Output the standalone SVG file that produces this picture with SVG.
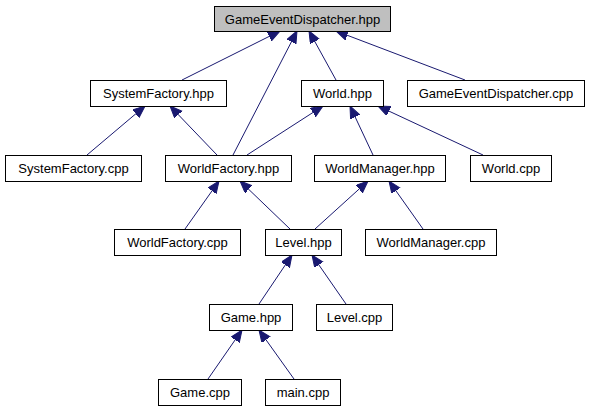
<svg xmlns="http://www.w3.org/2000/svg" width="589" height="411" viewBox="0 0 589 411">
<defs>
<style>
.n rect{fill:#fff;stroke:#000;stroke-width:1}
.n text{font-family:"Liberation Sans",Arial,sans-serif;font-size:13px;fill:#000;text-anchor:middle}
.e line{stroke:#191970;stroke-width:1;marker-end:url(#ah)}
</style>
<marker id="ah" markerUnits="userSpaceOnUse" markerWidth="14" markerHeight="12" refX="12" refY="5" orient="auto">
<path d="M0,0 L12,5 L0,10 z" fill="#191970" stroke="#191970" stroke-width="1"/>
</marker>
</defs>
<rect width="589" height="411" fill="#fff"/>
<g id="connectors" class="e">
<line x1="182" y1="80" x2="280" y2="31"/>
<line x1="233" y1="155" x2="297" y2="31"/>
<line x1="336" y1="80" x2="309" y2="31"/>
<line x1="465" y1="80" x2="336" y2="31"/>
<line x1="87" y1="155" x2="145" y2="106"/>
<line x1="217" y1="155" x2="170" y2="106"/>
<line x1="247" y1="155" x2="323" y2="106"/>
<line x1="373" y1="155" x2="350" y2="106"/>
<line x1="483" y1="155" x2="378" y2="106"/>
<line x1="185" y1="229" x2="219" y2="181"/>
<line x1="290" y1="229" x2="240" y2="181"/>
<line x1="315" y1="229" x2="368" y2="181"/>
<line x1="423" y1="229" x2="389" y2="181"/>
<line x1="259" y1="304" x2="292" y2="255"/>
<line x1="346" y1="304" x2="312" y2="255"/>
<line x1="208" y1="379" x2="242" y2="330"/>
<line x1="294" y1="379" x2="259" y2="330"/>
</g>
<g id="n_ged_hpp" class="n"><rect x="214.5" y="6.5" width="176" height="25" style="fill:#bfbfbf"/><text x="302.5" y="23.5">GameEventDispatcher.hpp</text></g>
<g id="n_sysfac_hpp" class="n"><rect x="90.5" y="80.5" width="136" height="26"/><text x="158.5" y="98">SystemFactory.hpp</text></g>
<g id="n_world_hpp" class="n"><rect x="301.5" y="80.5" width="82" height="26"/><text x="342.5" y="98">World.hpp</text></g>
<g id="n_ged_cpp" class="n"><rect x="407.5" y="80.5" width="177" height="26"/><text x="496" y="98">GameEventDispatcher.cpp</text></g>
<g id="n_sysfac_cpp" class="n"><rect x="5.5" y="155.5" width="136" height="26"/><text x="73.5" y="173">SystemFactory.cpp</text></g>
<g id="n_wfac_hpp" class="n"><rect x="165.5" y="155.5" width="126" height="26"/><text x="228.5" y="173">WorldFactory.hpp</text></g>
<g id="n_wman_hpp" class="n"><rect x="314.5" y="155.5" width="131" height="26"/><text x="380" y="173">WorldManager.hpp</text></g>
<g id="n_world_cpp" class="n"><rect x="470.5" y="155.5" width="81" height="26"/><text x="511" y="173">World.cpp</text></g>
<g id="n_wfac_cpp" class="n"><rect x="114.5" y="229.5" width="126" height="26"/><text x="177.5" y="247">WorldFactory.cpp</text></g>
<g id="n_level_hpp" class="n"><rect x="265.5" y="229.5" width="76" height="26"/><text x="303.5" y="247">Level.hpp</text></g>
<g id="n_wman_cpp" class="n"><rect x="365.5" y="229.5" width="131" height="26"/><text x="431" y="247">WorldManager.cpp</text></g>
<g id="n_game_hpp" class="n"><rect x="209.5" y="304.5" width="83" height="26"/><text x="251" y="322">Game.hpp</text></g>
<g id="n_level_cpp" class="n"><rect x="316.5" y="304.5" width="76" height="26"/><text x="354.5" y="322">Level.cpp</text></g>
<g id="n_game_cpp" class="n"><rect x="158.5" y="379.5" width="83" height="26"/><text x="200" y="397">Game.cpp</text></g>
<g id="n_main_cpp" class="n"><rect x="265.5" y="379.5" width="75" height="26"/><text x="303" y="397">main.cpp</text></g>
</svg>
